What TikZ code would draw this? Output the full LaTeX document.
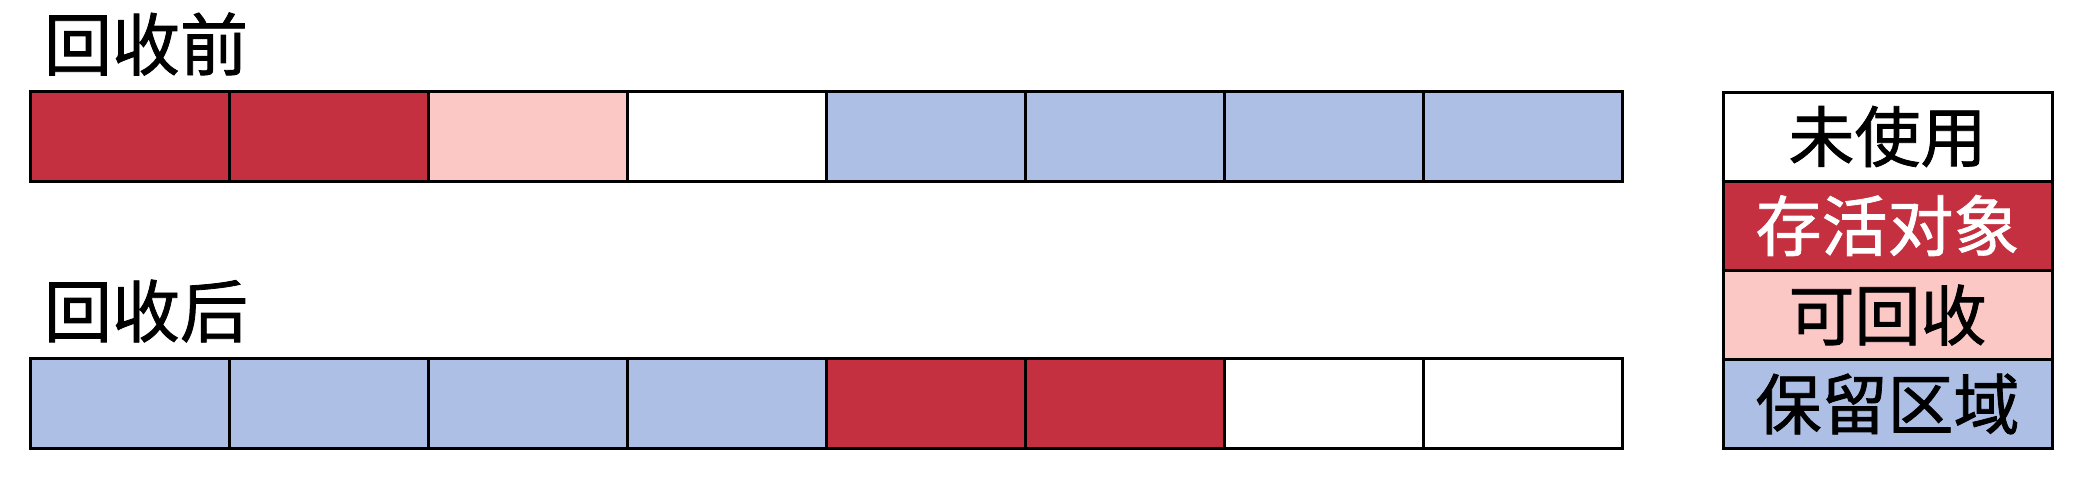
\documentclass[tikz,border=0pt]{standalone}
\usepackage{fontspec}
\newfontfamily\cjk[FakeBold=1.2]{Noto Sans CJK SC}
\definecolor{live}{HTML}{C4303F}
\definecolor{garb}{HTML}{FBC8C6}
\definecolor{resv}{HTML}{ADBFE5}
\tikzset{
  cell/.style={draw=black, line width=3pt, minimum width=199.1pt, minimum height=90pt, inner sep=0pt, outer sep=0pt},
  legcell/.style={draw=black, line width=3pt, minimum width=329pt, minimum height=89pt, inner sep=0pt, outer sep=0pt, font=\cjk\fontsize{66}{70}\selectfont},
  title/.style={font=\cjk\fontsize{68}{72}\selectfont, inner sep=0pt}
}
\begin{document}
\begin{tikzpicture}[x=1pt,y=-1pt]
\useasboundingbox (0,0) rectangle (2078,483);
\fill[white] (0,0) rectangle (2078,483);
% titles
\node[title] (t1) at (146,44) {回收前};
\node[title] (t2) at (146,311) {回收后};
% row 1
\foreach \c [count=\i from 0] in {live,live,garb,white,resv,resv,resv,resv} {
  \node[cell, fill=\c] (a\i) at ({30+199.1*(\i+0.5)},136) {};
}
% row 2
\foreach \c [count=\i from 0] in {resv,resv,resv,resv,live,live,white,white} {
  \node[cell, fill=\c] (b\i) at ({30+199.1*(\i+0.5)},403) {};
}
% legend
\node[legcell, fill=white] (l1) at (1887.5,136.5) {未使用};
\node[legcell, fill=live, text=white] (l2) at (1887.5,225.5) {存活对象};
\node[legcell, fill=garb] (l3) at (1887.5,315) {可回收};
\node[legcell, fill=resv] (l4) at (1887.5,404) {保留区域};
\end{tikzpicture}
\end{document}
